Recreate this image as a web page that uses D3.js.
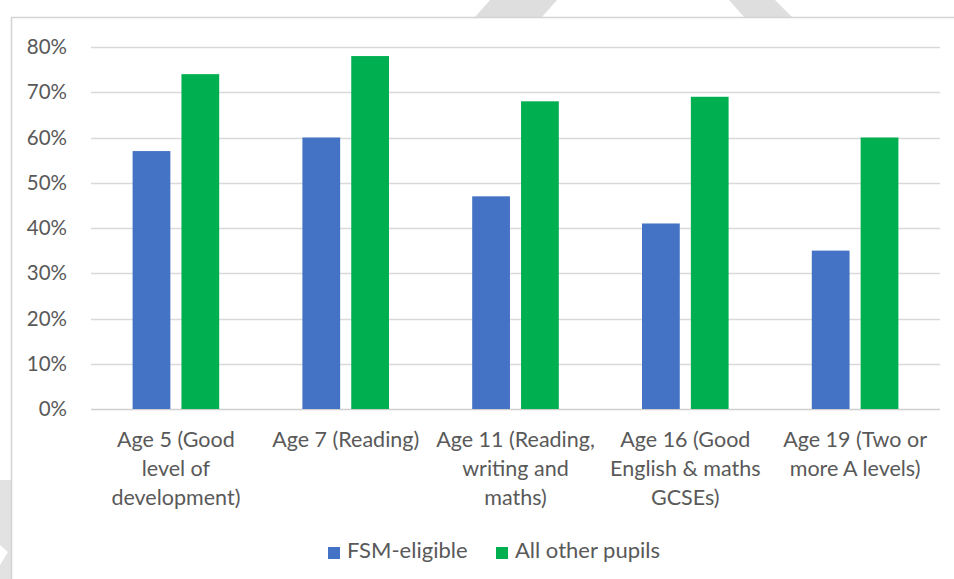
<!DOCTYPE html>
<html>
<head>
<meta charset="utf-8">
<script src="https://cdn.jsdelivr.net/npm/d3@7"></script>
<style>
  body { margin: 0; background: #fff; }
  svg text { font-family: Lato, "Open Sans", sans-serif; fill: #595959; }
</style>
</head>
<body>
<script>
var w = 954;
var h = 579;

// donnees
var categories = ["Age 5", "Age 7", "Age 11", "Age 16", "Age 19"];
var tickLines = [
  ["Age 5 (Good", "level of", "development)"],
  ["Age 7 (Reading)"],
  ["Age 11 (Reading,", "writing and", "maths)"],
  ["Age 16 (Good", "English & maths", "GCSEs)"],
  ["Age 19 (Two or", "more A levels)"]
];
var seriesNames = ["FSM-eligible", "All other pupils"];
var fsm = [57, 60, 47, 41, 35];
var others = [74, 78, 68, 69, 60];
var colors = ["#4472C4", "#00B050"];
var yTicks = [0, 10, 20, 30, 40, 50, 60, 70, 80];

var margin = {top: 47, right: 14, bottom: 170, left: 91};

var svg = d3.select("body").append("svg")
    .attr("width", w)
    .attr("height", h);

// filigrane gris (bords de l'image)
svg.append("polygon").attr("points", "490,0 557,0 542,17 475,17").attr("fill", "#dedede");
svg.append("polygon").attr("points", "729,0 775,0 792,17 744,17").attr("fill", "#dedede");
svg.append("polygon").attr("points", "0,480 11,480 11,579 0,579 0,565 8,552 0,545").attr("fill", "#e2e2e2");

// cadre
svg.append("line").attr("x1", 11).attr("x2", w).attr("y1", 17.5).attr("y2", 17.5)
    .attr("stroke", "#d4d4d4").attr("stroke-width", 1.5);
svg.append("line").attr("x1", 11.5).attr("x2", 11.5).attr("y1", 17).attr("y2", h)
    .attr("stroke", "#d4d4d4").attr("stroke-width", 1.5);

var x0 = d3.scaleBand()
    .domain(categories)
    .range([margin.left, w - margin.right])
    .paddingInner(0.49)
    .paddingOuter(0.245);

var x1 = d3.scaleBand()
    .domain(seriesNames)
    .range([0, x0.bandwidth()])
    .paddingInner(0.227);

var y = d3.scaleLinear()
    .domain([0, 80])
    .range([h - margin.bottom, margin.top]);

// grille
svg.append("g").selectAll("line")
    .data(yTicks)
    .enter().append("line")
    .attr("x1", margin.left)
    .attr("x2", w - margin.right)
    .attr("y1", function(d){ return Math.round(y(d)) + 0.5; })
    .attr("y2", function(d){ return Math.round(y(d)) + 0.5; })
    .attr("stroke", function(d){ return d == 0 ? "#cfcfcf" : "#d9d9d9"; })
    .attr("stroke-width", 1.5);

// axe y
var yAxis = svg.append("g")
    .attr("transform", "translate(" + 67 + ",0)")
    .call(d3.axisLeft(y).tickValues(yTicks).tickSize(0).tickPadding(0)
      .tickFormat(function(d){ return d + "%"; }));
yAxis.select(".domain").remove();
yAxis.selectAll("text").style("font-size", "20.5px").attr("fill", "#595959");

// barres
var values = [fsm, others];
for (var s = 0; s < seriesNames.length; s++) {
  svg.append("g").selectAll("rect")
    .data(categories)
    .enter().append("rect")
    .attr("x", function(d){ return x0(d) + x1(seriesNames[s]); })
    .attr("y", function(d, i){ return y(values[s][i]); })
    .attr("width", x1.bandwidth())
    .attr("height", function(d, i){ return y(0) - y(values[s][i]); })
    .attr("fill", colors[s]);
}

// etiquettes x
var xl = svg.append("g");
categories.forEach(function(c, i){
  var t = xl.append("text")
    .attr("x", x0(c) + x0.bandwidth() / 2)
    .attr("y", 447)
    .attr("text-anchor", "middle")
    .style("font-size", "21.5px");
  tickLines[i].forEach(function(line, j){
    t.append("tspan")
      .attr("x", x0(c) + x0.bandwidth() / 2)
      .attr("dy", j == 0 ? 0 : 29)
      .text(line);
  });
});

// legende
var legX = [328, 496];
seriesNames.forEach(function(n, i){
  svg.append("rect").attr("x", legX[i]).attr("y", 547).attr("width", 12).attr("height", 12)
    .attr("fill", colors[i]);
  svg.append("text").attr("x", legX[i] + 19).attr("y", 558)
    .style("font-size", "22px").text(n);
});
</script>
</body>
</html>
